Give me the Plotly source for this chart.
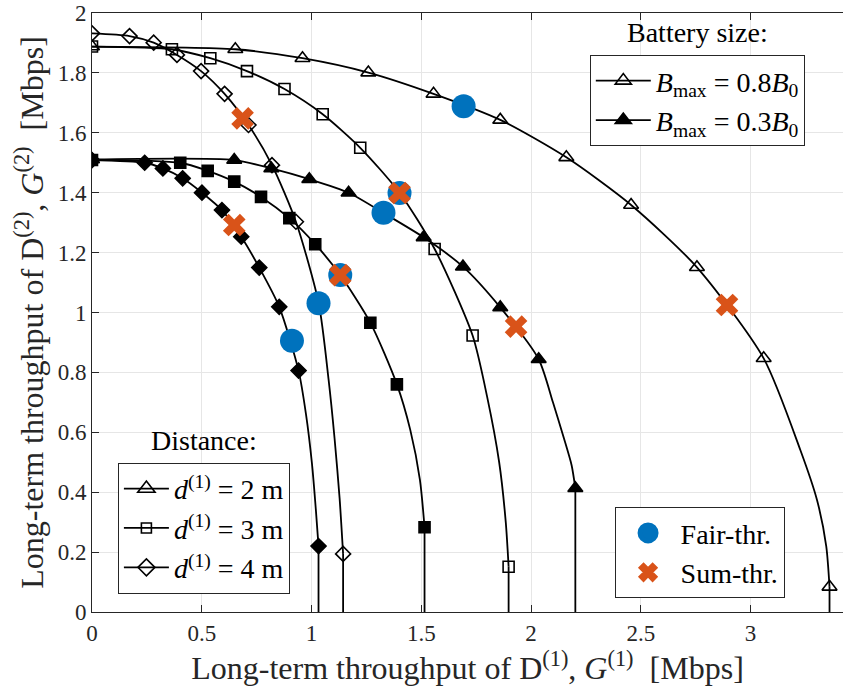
import plotly.graph_objects as go

# ---------------- data ----------------
# d(1)=2 m, Bmax=0.8B0  (open triangles)
t08_mx = [0.0, 0.653, 0.959, 1.259, 1.556, 1.860, 2.161, 2.456, 2.756, 3.060, 3.360]
t08_my = [1.888, 1.879, 1.849, 1.801, 1.730, 1.643, 1.518, 1.359, 1.151, 0.847, 0.084]
t08_lx = [0.0, 0.653, 0.959, 1.259, 1.556, 1.860, 2.161, 2.456, 2.756, 3.060, 3.227, 3.303, 3.345, 3.360]
t08_ly = [1.888, 1.879, 1.849, 1.801, 1.730, 1.643, 1.518, 1.359, 1.151, 0.847, 0.541, 0.374, 0.220, 0.084]

# d(1)=2 m, Bmax=0.3B0  (filled triangles)
t03_mx = [0.0, 0.648, 0.817, 0.990, 1.169, 1.338, 1.511, 1.690, 1.860, 2.035, 2.202]
t03_my = [1.511, 1.509, 1.481, 1.445, 1.400, 1.328, 1.251, 1.153, 1.017, 0.844, 0.413]
t03_lx = [0.0, 0.648, 0.817, 0.990, 1.169, 1.338, 1.511, 1.690, 1.860, 2.035, 2.100, 2.150, 2.185, 2.202]
t03_ly = [1.511, 1.509, 1.481, 1.445, 1.400, 1.328, 1.251, 1.153, 1.017, 0.844, 0.700, 0.580, 0.490, 0.413]

# d(1)=3 m, Bmax=0.8B0  (open squares)
s08_mx = [0.0, 0.364, 0.539, 0.706, 0.877, 1.051, 1.222, 1.401, 1.561, 1.734, 1.898]
s08_my = [1.888, 1.879, 1.849, 1.806, 1.746, 1.662, 1.550, 1.400, 1.212, 0.923, 0.151]
s08_lx = [0.0, 0.364, 0.539, 0.706, 0.877, 1.051, 1.222, 1.401, 1.561, 1.734, 1.800, 1.855, 1.885, 1.898]
s08_ly = [1.888, 1.879, 1.849, 1.806, 1.746, 1.662, 1.550, 1.400, 1.212, 0.923, 0.719, 0.500, 0.300, 0.151]

# d(1)=3 m, Bmax=0.3B0  (filled squares)
s03_mx = [0.0, 0.402, 0.527, 0.648, 0.770, 0.899, 1.017, 1.131, 1.268, 1.389, 1.515]
s03_my = [1.509, 1.500, 1.473, 1.437, 1.386, 1.315, 1.228, 1.125, 0.966, 0.760, 0.283]
s03_lx = [0.0, 0.402, 0.527, 0.648, 0.770, 0.899, 1.017, 1.131, 1.268, 1.389, 1.450, 1.494, 1.515]
s03_ly = [1.509, 1.500, 1.473, 1.437, 1.386, 1.315, 1.228, 1.125, 0.966, 0.760, 0.608, 0.441, 0.283]

# d(1)=4 m, Bmax=0.8B0  (open diamonds)
d08_mx = [0.0, 0.171, 0.281, 0.387, 0.497, 0.604, 0.713, 0.820, 0.929, 1.033, 1.144]
d08_my = [1.932, 1.923, 1.901, 1.860, 1.806, 1.730, 1.626, 1.492, 1.303, 1.030, 0.194]
d08_lx = [0.0, 0.171, 0.281, 0.387, 0.497, 0.604, 0.713, 0.820, 0.929, 1.033, 1.078, 1.105, 1.128, 1.144]
d08_ly = [1.932, 1.923, 1.901, 1.860, 1.806, 1.730, 1.626, 1.492, 1.303, 1.030, 0.775, 0.580, 0.380, 0.194]

# d(1)=4 m, Bmax=0.3B0  (filled diamonds)
d03_mx = [0.0, 0.240, 0.323, 0.413, 0.501, 0.592, 0.680, 0.762, 0.853, 0.941, 1.032]
d03_my = [1.509, 1.500, 1.481, 1.448, 1.400, 1.342, 1.253, 1.150, 1.019, 0.806, 0.220]
d03_lx = [0.0, 0.240, 0.323, 0.413, 0.501, 0.592, 0.680, 0.762, 0.853, 0.941, 0.975, 1.002, 1.020, 1.032]
d03_ly = [1.509, 1.500, 1.481, 1.448, 1.400, 1.342, 1.253, 1.150, 1.019, 0.806, 0.660, 0.496, 0.340, 0.220]

# Operating points
fair_x = [0.911, 1.032, 1.131, 1.328, 1.401, 1.693]
fair_y = [0.906, 1.031, 1.125, 1.333, 1.399, 1.689]
sum_x = [0.648, 0.686, 1.131, 1.401, 1.932, 2.893]
sum_y = [1.292, 1.648, 1.125, 1.399, 0.953, 1.025]

x_ticks = [0, 0.5, 1, 1.5, 2, 2.5, 3]
y_ticks = [0, 0.2, 0.4, 0.6, 0.8, 1, 1.2, 1.4, 1.6, 1.8, 2]

battery_labels = ["<i>B</i><sub>max</sub> = 0.8<i>B</i><sub>0</sub>",
                  "<i>B</i><sub>max</sub> = 0.3<i>B</i><sub>0</sub>"]
distance_labels = ["<i>d</i><sup>(1)</sup> = 2 m",
                   "<i>d</i><sup>(1)</sup> = 3 m",
                   "<i>d</i><sup>(1)</sup> = 4 m"]
point_labels = ["Fair-thr.", "Sum-thr."]

# ---------------- styling ----------------
FONT = "Liberation Serif, DejaVu Serif, serif"
BLACK = "#000000"
DARK = "#262626"
BLUE = "#0072BD"
ORANGE = "#D95319"
LW = 1.8

curves = [
    (t08_lx, t08_ly, t08_mx, t08_my, "triangle-up-open", 13),
    (t03_lx, t03_ly, t03_mx, t03_my, "triangle-up", 13),
    (s08_lx, s08_ly, s08_mx, s08_my, "square-open", 11),
    (s03_lx, s03_ly, s03_mx, s03_my, "square", 11),
    (d08_lx, d08_ly, d08_mx, d08_my, "diamond-open", 11.5),
    (d03_lx, d03_ly, d03_mx, d03_my, "diamond", 11.5),
]

fig = go.Figure()

for lx, ly, mx, my, sym, size in curves:
    fig.add_trace(go.Scatter(x=lx, y=ly, mode="lines",
                             line=dict(color=BLACK, width=LW, shape="spline", smoothing=0.7),
                             showlegend=False, hoverinfo="skip"))
    fig.add_trace(go.Scatter(x=[lx[-1], lx[-1]], y=[ly[-1], 0], mode="lines",
                             line=dict(color=BLACK, width=LW),
                             showlegend=False, hoverinfo="skip"))
    fig.add_trace(go.Scatter(x=mx, y=my, mode="markers",
                             marker=dict(symbol=sym, size=size, color=BLACK,
                                         line=dict(color=BLACK, width=1.6)),
                             showlegend=False))

fig.add_trace(go.Scatter(x=fair_x, y=fair_y, mode="markers",
                         marker=dict(symbol="circle", size=24, color=BLUE, line=dict(width=0)),
                         showlegend=False))
fig.add_trace(go.Scatter(x=sum_x, y=sum_y, mode="markers",
                         marker=dict(symbol="x", size=20, color=ORANGE, line=dict(width=0)),
                         showlegend=False))

# ---------------- legends (legend-only entries) ----------------
for lab, sym in zip(battery_labels, ["triangle-up-open", "triangle-up"]):
    fig.add_trace(go.Scatter(x=[None], y=[None], mode="lines+markers", name=lab,
                             line=dict(color=BLACK, width=LW),
                             marker=dict(symbol=sym, size=14, color=BLACK,
                                         line=dict(color=BLACK, width=1.6)),
                             legend="legend"))
for lab, sym, sz in zip(distance_labels, ["triangle-up-open", "square-open", "diamond-open"], [15, 10, 13]):
    fig.add_trace(go.Scatter(x=[None], y=[None], mode="lines+markers", name=lab,
                             line=dict(color=BLACK, width=LW),
                             marker=dict(symbol=sym, size=sz, color=BLACK,
                                         line=dict(color=BLACK, width=1.6)),
                             legend="legend2"))
fig.add_trace(go.Scatter(x=[None], y=[None], mode="markers", name=point_labels[0],
                         marker=dict(symbol="circle", size=16, color=BLUE,
                                     line=dict(color=BLUE, width=5)),
                         legend="legend3"))
fig.add_trace(go.Scatter(x=[None], y=[None], mode="markers", name=point_labels[1],
                         marker=dict(symbol="x", size=16, color=ORANGE,
                                     line=dict(color=ORANGE, width=1.5)),
                         legend="legend3"))

leg_common = dict(bgcolor="white", bordercolor=DARK, borderwidth=1,
                  font=dict(family=FONT, size=28, color=BLACK),
                  xanchor="center", yanchor="top")

axis_common = dict(showline=True, linecolor=DARK, linewidth=1,
                   ticks="inside", ticklen=7, tickcolor=DARK,
                   showgrid=True, gridcolor="#E6E6E6", gridwidth=1,
                   zeroline=False,
                   tickfont=dict(family=FONT, size=23, color=DARK))

fig.update_layout(
    width=843, height=690,
    margin=dict(l=92, r=0, t=13, b=78),
    paper_bgcolor="white", plot_bgcolor="white",
    font=dict(family=FONT, color=BLACK),
    xaxis=dict(range=[0, 751 / 219.5], tickvals=x_ticks, mirror="ticks",
               title=dict(text="Long-term throughput of D<sup>(1)</sup>, <i>G</i><sup>(1)</sup>  [Mbps]",
                          font=dict(family=FONT, size=32, color=DARK), standoff=6),
               **axis_common),
    yaxis=dict(range=[0, 2], tickvals=y_ticks, mirror=False,
               title=dict(text="Long-term throughput of D<sup>(2)</sup>, <i>G</i><sup>(2)</sup>  [Mbps]",
                          font=dict(family=FONT, size=32, color=DARK), standoff=4),
               **axis_common),
    legend=dict(x=0.806, y=0.930, itemwidth=55, **leg_common),
    legend2=dict(x=0.149, y=0.249, itemwidth=45, **leg_common),
    legend3=dict(x=0.809, y=0.175, itemwidth=55, **leg_common),
    annotations=[
        dict(text="Battery size:", x=0.806, y=0.967, xref="paper", yref="paper",
             showarrow=False, xanchor="center", yanchor="middle",
             font=dict(family=FONT, size=28, color=BLACK)),
        dict(text="Distance:", x=0.149, y=0.287, xref="paper", yref="paper",
             showarrow=False, xanchor="center", yanchor="middle",
             font=dict(family=FONT, size=28, color=BLACK)),
    ],
)

fig.write_html("out.html")
